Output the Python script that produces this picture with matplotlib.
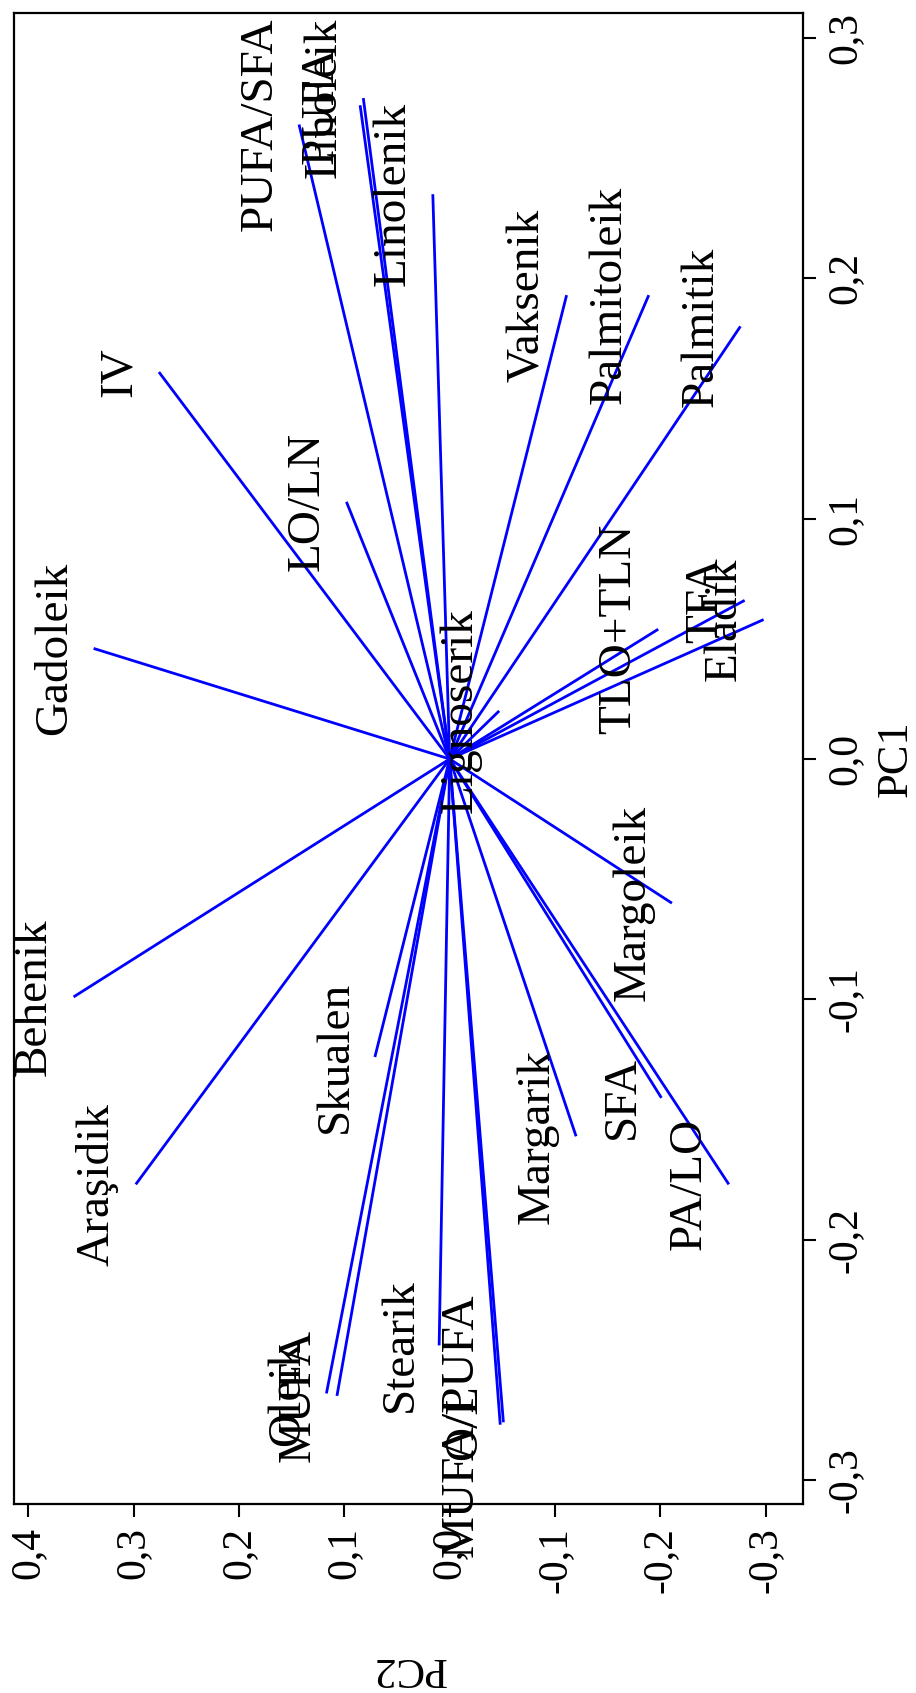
import matplotlib
matplotlib.use("Agg")
import matplotlib.pyplot as plt

# loadings of each variable on PC1 / PC2
names = ["IV", "Gadoleik", "Behenik", "Araşidik", "Skualen", "Oleik", "MUFA",
         "Stearik", "MUFA/PUFA", "O/L", "Margarik", "SFA", "PA/LO", "Margoleik",
         "TLO+TLN", "TFA", "Eladik", "Lignoserik", "Palmitik", "Palmitoleik",
         "Vaksenik", "Linolenik", "Linoleik", "PUFA", "PUFA/SFA", "LO/LN"]
pc1 = [0.161, 0.046, -0.099, -0.177, -0.124, -0.264, -0.265,
       -0.244, -0.277, -0.276, -0.157, -0.141, -0.177, -0.060,
       0.054, 0.066, 0.058, 0.020, 0.180, 0.193,
       0.193, 0.235, 0.275, 0.272, 0.264, 0.107]
pc2 = [0.276, 0.338, 0.357, 0.298, 0.071, 0.117, 0.107,
       0.010, -0.048, -0.051, -0.120, -0.201, -0.265, -0.211,
       -0.198, -0.280, -0.298, -0.047, -0.276, -0.189,
       -0.111, 0.016, 0.082, 0.085, 0.143, 0.098]

pc2_ticks = [0.4, 0.3, 0.2, 0.1, 0.0, -0.1, -0.2, -0.3]
pc1_ticks = [-0.3, -0.2, -0.1, 0.0, 0.1, 0.2, 0.3]

plt.rcParams['font.family'] = ['Liberation Serif', 'DejaVu Serif']

W, H = 916, 1693
fig = plt.figure(figsize=(W / 100, H / 100), dpi=100)
ax = fig.add_axes([14.3 / W, 1 - 1504 / H, (803.3 - 14.3) / W, (1504 - 13) / H])

for a, b, n in zip(pc2, pc1, names):
    ax.plot([0, a], [0, b], color='#0000ff', lw=2.0, solid_capstyle='butt')
    ax.annotate(n, (a, b), xytext=(-39, 0), textcoords='offset pixels',
                rotation=90, ha='center', va='center', fontsize=34)

ax.set_xlim(0.4133, -0.3357)
ax.set_ylim(-0.310, 0.3104)

def fmt(v):
    return ('%.1f' % v).replace('.', ',').replace('-0,0', '0,0')

ax.set_xticks(pc2_ticks)
ax.set_xticklabels([fmt(v) for v in pc2_ticks], rotation=90, fontsize=30)
ax.yaxis.tick_right()
ax.set_yticks(pc1_ticks)
ax.set_yticklabels([fmt(v) for v in pc1_ticks], rotation=90, fontsize=30, va='center')
ax.tick_params(length=9.5, width=1.5, pad=7)

for s in ax.spines.values():
    s.set_linewidth(1.6)

ax.set_xlabel('PC2', fontsize=31, rotation=180)
ax.xaxis.label.set_va('center')
ax.xaxis.set_label_coords(0.5, -(1668 - 1504) / 1491)
ax.yaxis.set_label_position('right')
ax.set_ylabel('PC1', fontsize=32, rotation=90)
ax.yaxis.label.set_va('center')
ax.yaxis.label.set_ha('center')
ax.yaxis.set_label_coords((896 - 14.3) / 789, 0.5)

fig.savefig('out.png', dpi=100)
